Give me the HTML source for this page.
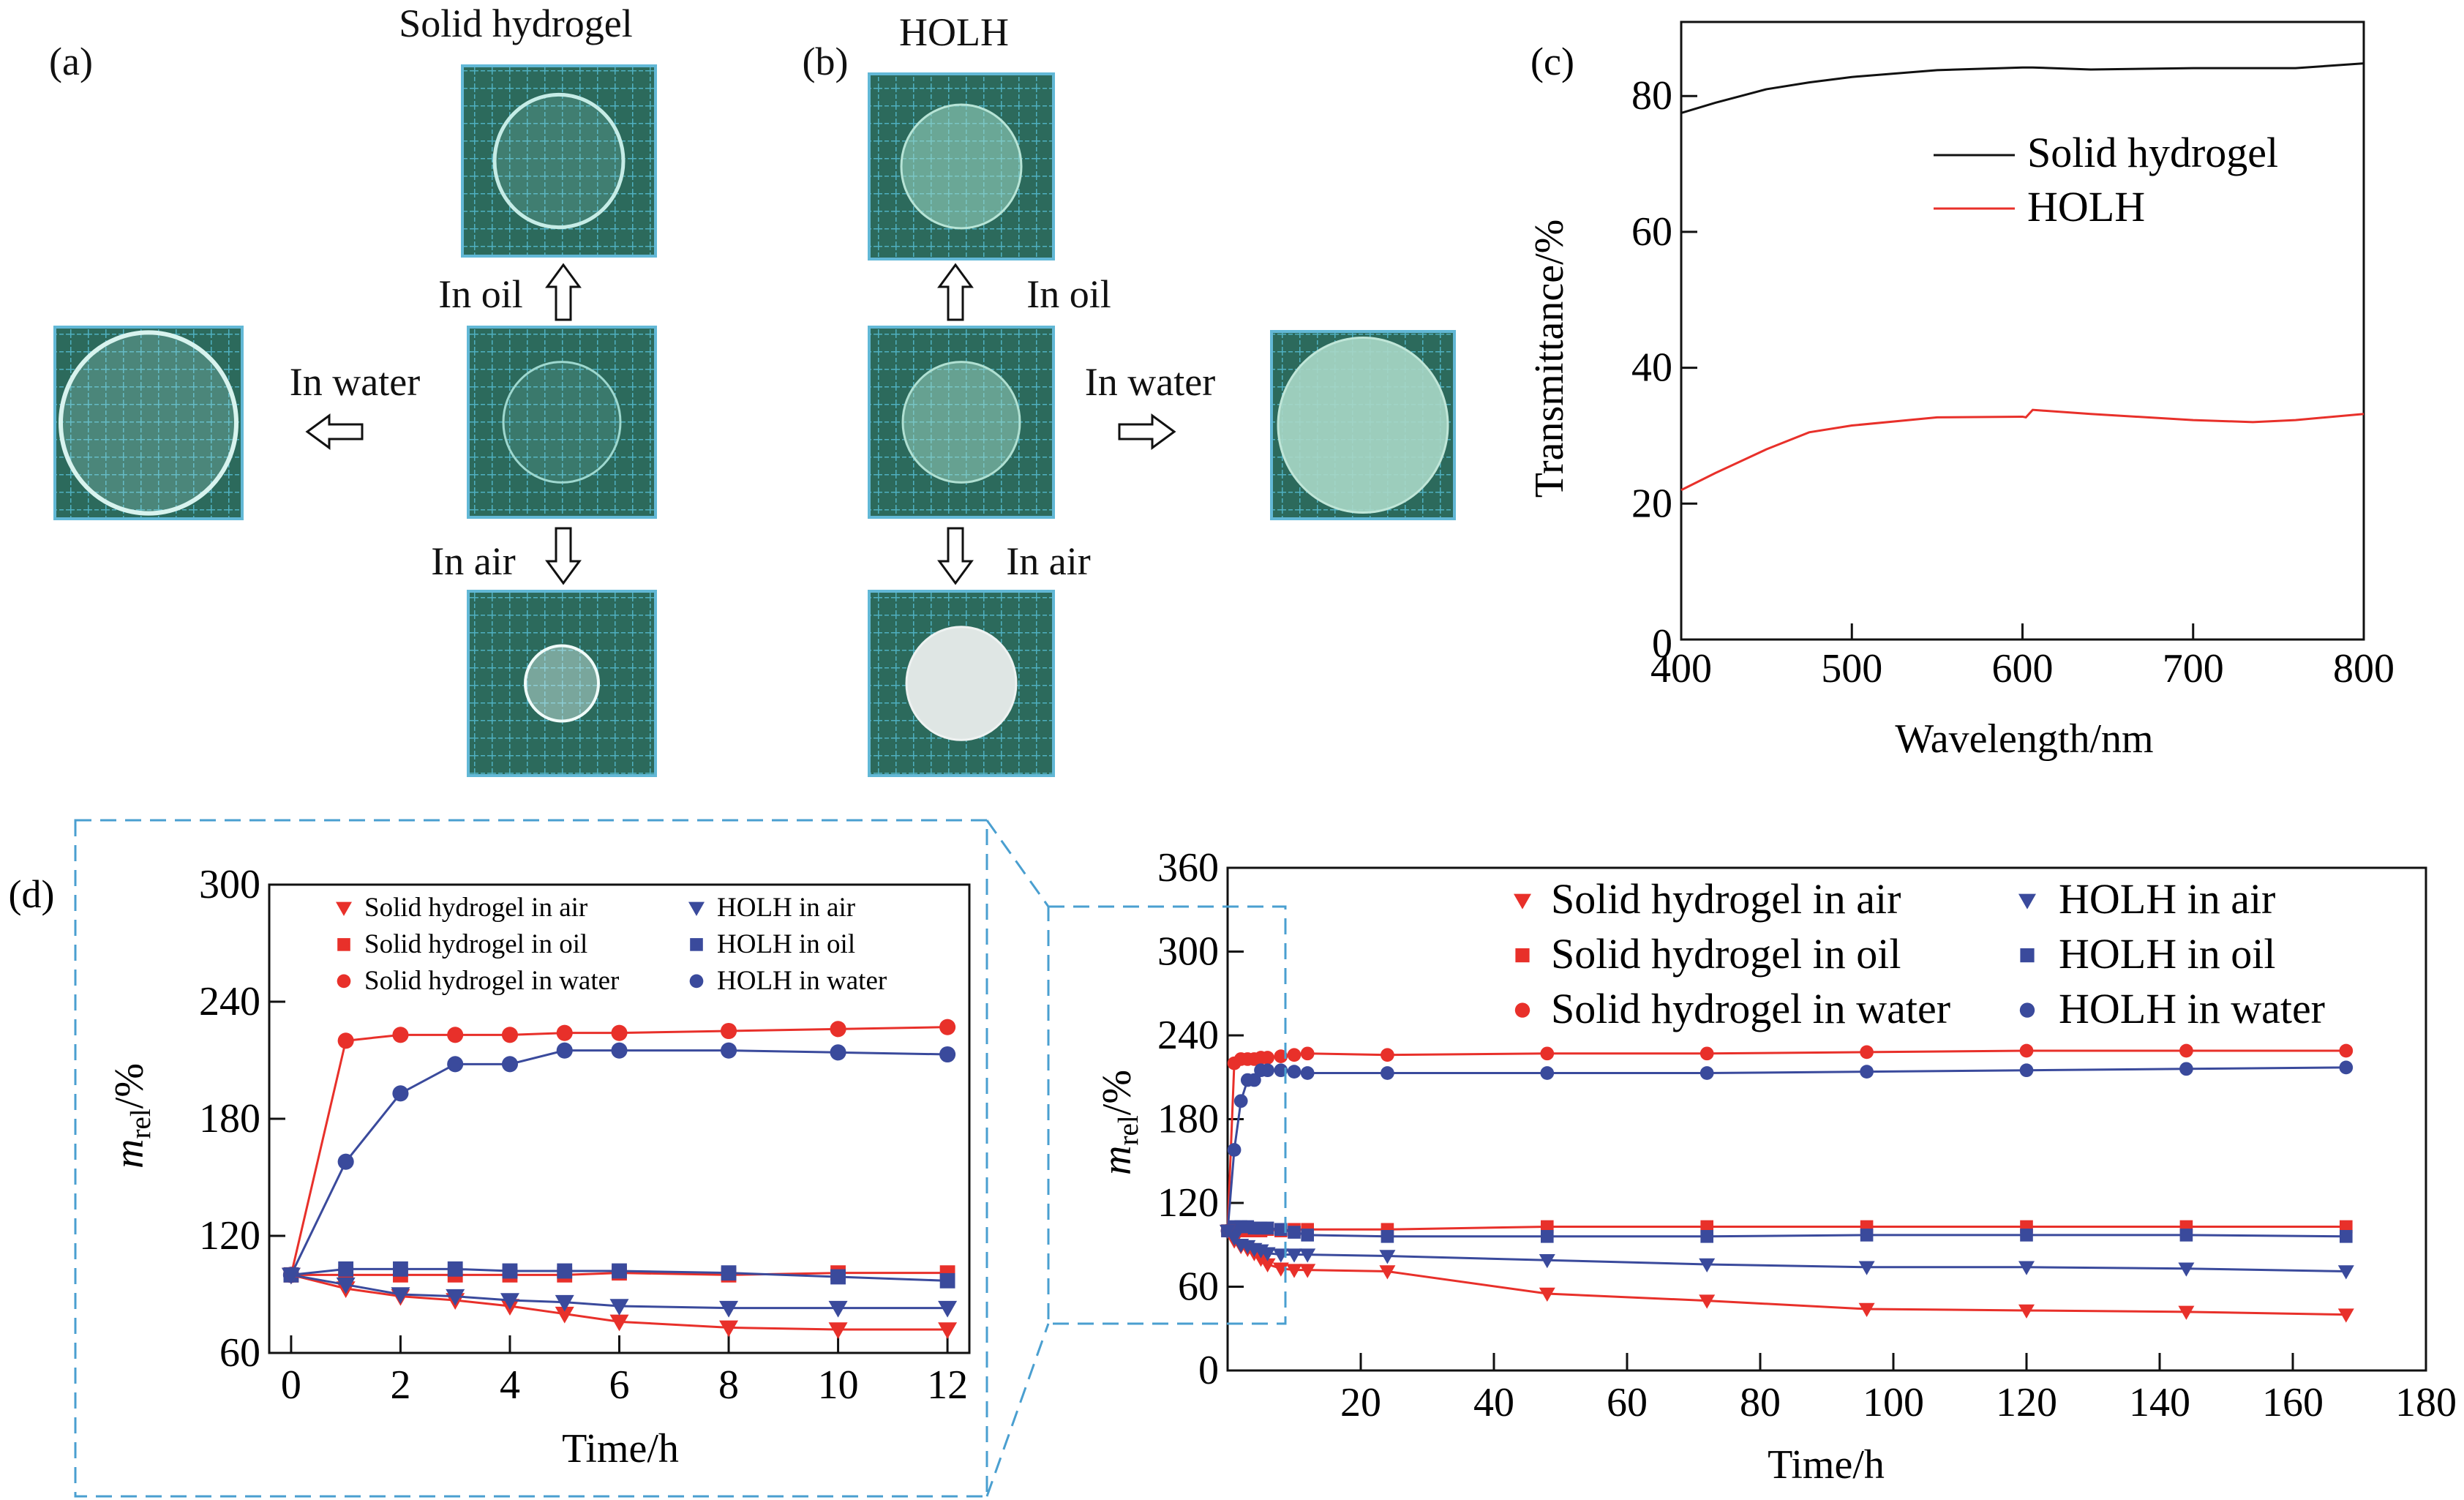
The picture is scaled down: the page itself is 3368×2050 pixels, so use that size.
<!DOCTYPE html>
<html><head><meta charset="utf-8"><style>
html,body{margin:0;padding:0;background:#fff;}
svg{display:block;}
svg text, svg tspan{font-family:"Liberation Serif","Times New Roman",serif;}
</style></head><body>
<svg id="fig" width="3368" height="2050" viewBox="0 0 3368 2050" xmlns="http://www.w3.org/2000/svg" font-family="Liberation Serif, serif">
<defs>
<pattern id="grid" width="24" height="24" patternUnits="userSpaceOnUse">
<rect width="24" height="24" fill="#2c6a5c"/>
<path d="M0 0H24M0 0V24" stroke="#4fb0c0" stroke-width="3" stroke-dasharray="6 3"/>
</pattern>
</defs>
<g id="photos"></g>
<g id="chartc"></g>
<g id="chartd1"></g>
<g id="chartd2"></g>
</svg>
<script>
// ---- panel c data ----
const cWave = [400,420,450,475,500,550,600,602,606,640,700,735,760,800];
const cSolid = [77.5,79,81,82,82.8,83.8,84.2,84.2,84.2,83.9,84.1,84.1,84.1,84.8];
const cHolh = [22,24.5,28,30.5,31.5,32.7,32.8,32.7,33.8,33.2,32.3,32,32.3,33.2];
const cXTicks = [400,500,600,700,800];
const cYTicks = [0,20,40,60,80];
// ---- panel d data ----
const tShort = [0,1,2,3,4,5,6,8,10,12];
const tLong = [0,1,2,3,4,5,6,8,10,12,24,48,72,96,120,144,168];
const solidWater = [100,220,223,223,223,224,224,225,226,227,226,227,227,228,229,229,229];
const holhWater = [100,158,193,208,208,215,215,215,214,213,213,213,213,214,215,216,217];
const solidOil = [100,100,100,100,100,100,101,100,101,101,101,103,103,103,103,103,103];
const holhOil = [100,103,103,103,102,102,102,101,99,97,96,96,96,97,97,97,96];
const solidAir = [100,93,89,87,84,80,76,73,72,72,71,55,50,44,43,42,40];
const holhAir = [100,95,90,89,87,86,84,83,83,83,82,79,76,74,74,73,71];
const d1XTicks = [0,2,4,6,8,10,12];
const d1YTicks = [60,120,180,240,300];
const d2XTicks = [20,40,60,80,100,120,140,160,180];
const d2YTicks = [0,60,120,180,240,300,360];

const NS='http://www.w3.org/2000/svg';
const FONT='"Liberation Serif", serif';
function mk(parent,tag,attrs,text){const e=document.createElementNS(NS,tag);for(const k in attrs)e.setAttribute(k,attrs[k]);if(tag==='text'||tag==='tspan')e.setAttribute('font-family',FONT);if(text!==undefined)e.textContent=text;parent.appendChild(e);return e;}
const RED='#e8302a', BLUE='#3a4a9c';

// ---- photos ----
(function(){
const P=document.getElementById('photos');
function photo(x,y,w,h,name,r,fill,op,stroke,sw){
  const g=document.createElementNS(NS,'g');P.appendChild(g);
  
  
  mk(g,'rect',{x:x,y:y,width:w,height:h,fill:'url(#grid)',stroke:'#62b8d6','stroke-width':4});
  mk(g,'ellipse',{cx:x+w/2,cy:y+h/2,rx:r,ry:r*1.03,fill:fill,'fill-opacity':op,stroke:stroke,'stroke-width':sw});
}
photo(632,90,264,260,'photo-a-oil',88,'#8fd3c8',0.2,'#c6ece6',5);
photo(640,447,256,260,'photo-a-origin',80,'#8fd3c8',0.15,'#9ed8cf',3);
photo(75,447,256,262,'photo-a-water',120,'#a6dcd5',0.25,'#d8f3ee',6);
photo(640,808,256,252,'photo-a-air',50,'#d6f0ec',0.45,'#f0fbf9',4);
photo(1188,101,252,253,'photo-b-oil',82,'#9fd8c6',0.55,'#b7e4d6',3);
photo(1188,447,252,260,'photo-b-origin',80,'#9fd8c6',0.5,'#b0e0d2',3);
photo(1738,453,250,256,'photo-b-water',116,'#a9d8c6',0.9,'#c0e6d8',3);
photo(1188,808,252,252,'photo-b-air',75,'#dfe6e4',1,'#eef2f1',3);
const T=(x,y,s,name,size,anchor)=>{const t=mk(P,'text',{x:x,y:y,'font-size':size||54,'text-anchor':anchor||'middle',fill:'#111'},s);return t;};
T(705,50,'Solid hydrogel','title-solid-hydrogel');
T(1304,62,'HOLH','title-holh');
T(97,102,'(a)','label-a');
T(1128,102,'(b)','label-b');
T(657,420,'In oil','label-a-in-oil');
T(485,540,'In water','label-a-in-water');
T(647,785,'In air','label-a-in-air');
T(1461,420,'In oil','label-b-in-oil');
T(1572,540,'In water','label-b-in-water');
T(1433,785,'In air','label-b-in-air');
function arrow(x,y,dir,name){
  let pts;
  const L=75,w=10,hw=22,hl=30;
  if(dir==='up') pts=[[x-w,y+L],[x-w,y+hl],[x-hw,y+hl],[x,y],[x+hw,y+hl],[x+w,y+hl],[x+w,y+L]];
  if(dir==='down') pts=[[x-w,y],[x-w,y+L-hl],[x-hw,y+L-hl],[x,y+L],[x+hw,y+L-hl],[x+w,y+L-hl],[x+w,y]];
  if(dir==='left') pts=[[x+L,y-w],[x+hl,y-w],[x+hl,y-hw],[x,y],[x+hl,y+hw],[x+hl,y+w],[x+L,y+w]];
  if(dir==='right') pts=[[x,y-w],[x+L-hl,y-w],[x+L-hl,y-hw],[x+L,y],[x+L-hl,y+hw],[x+L-hl,y+w],[x,y+w]];
  const p=mk(P,'polygon',{points:pts.map(q=>q.join(',')).join(' '),fill:'#fff',stroke:'#111','stroke-width':3});
  
}
arrow(770,362,'up','arrow-a-oil');
arrow(420,590,'left','arrow-a-water');
arrow(770,722,'down','arrow-a-air');
arrow(1306,362,'up','arrow-b-oil');
arrow(1530,590,'right','arrow-b-water');
arrow(1306,722,'down','arrow-b-air');
})();

// ---- panel c ----
(function(){
const G=document.getElementById('chartc');
const L=2298,R=3231,Tp=30,B=874;
const x=v=>L+(v-400)/400*(R-L), y=v=>B-v/20*185.7;
const box=mk(G,'rect',{x:L,y:Tp,width:R-L,height:B-Tp,fill:'none',stroke:'#111','stroke-width':3});

cXTicks.forEach(v=>{
  if(v>400&&v<800){const l=mk(G,'line',{x1:x(v),x2:x(v),y1:B,y2:B-22,stroke:'#111','stroke-width':3});}
  const t=mk(G,'text',{x:x(v),y:B+58,'font-size':56,'text-anchor':'middle'},String(v));
  
});
cYTicks.forEach(v=>{
  if(v>0){const l=mk(G,'line',{x1:L,x2:L+22,y1:y(v),y2:y(v),stroke:'#111','stroke-width':3});}
  const t=mk(G,'text',{x:L-12,y:y(v)+(v===0?24:18),'font-size':56,'text-anchor':'end'},String(v));
  
});
const s1=mk(G,'polyline',{points:cWave.map((w,i)=>x(w)+','+y(cSolid[i])).join(' '),fill:'none',stroke:'#111','stroke-width':3});

const s2=mk(G,'polyline',{points:cWave.map((w,i)=>x(w)+','+y(cHolh[i])).join(' '),fill:'none',stroke:RED,'stroke-width':3});

const lg=mk(G,'g',{});
mk(lg,'line',{x1:2643,x2:2754,y1:212,y2:212,stroke:'#111','stroke-width':3});
mk(lg,'text',{x:2771,y:228,'font-size':58},'Solid hydrogel');
mk(lg,'line',{x1:2643,x2:2754,y1:285,y2:285,stroke:RED,'stroke-width':3});
mk(lg,'text',{x:2771,y:302,'font-size':58},'HOLH');
const a=mk(G,'text',{x:2122,y:102,'font-size':54,'text-anchor':'middle'},'(c)');
const yt=mk(G,'text',{x:0,y:0,'font-size':56,'text-anchor':'middle',transform:'translate(2136,490) rotate(-90)'},'Transmittance/%');
const xt=mk(G,'text',{x:2767,y:1028,'font-size':56,'text-anchor':'middle'},'Wavelength/nm');
})();

// ---- panel d ----
function marker(g,kind,cx,cy,sz,color){
  let e;
  if(kind==='tri') e=mk(g,'polygon',{points:`${cx-sz},${cy-sz*0.75} ${cx+sz},${cy-sz*0.75} ${cx},${cy+sz}`,fill:color});
  else if(kind==='sq') e=mk(g,'rect',{x:cx-sz*0.8,y:cy-sz*0.8,width:sz*1.6,height:sz*1.6,fill:color});
  else e=mk(g,'circle',{cx:cx,cy:cy,r:sz*0.85,fill:color});
  return e;
}
const seriesDefs=[
  ['solid-water',solidWater,RED,'circ'],['holh-water',holhWater,BLUE,'circ'],
  ['solid-oil',solidOil,RED,'sq'],['holh-oil',holhOil,BLUE,'sq'],
  ['solid-air',solidAir,RED,'tri'],['holh-air',holhAir,BLUE,'tri']];
function drawD(G,opt){
  const {L,R,Tp,B,xmin,xmax,ymin,ymax,times,xt,yt,ms,fs,tag}=opt;
  const x=v=>L+(v-xmin)/(xmax-xmin)*(R-L), y=v=>B-(v-ymin)/(ymax-ymin)*(B-Tp);
  const f=mk(G,'rect',{x:L,y:Tp,width:R-L,height:B-Tp,fill:'none',stroke:'#111','stroke-width':3});
  
  xt.forEach(v=>{
    if(v>xmin&&v<xmax||opt.tickEnds){const l=mk(G,'line',{x1:x(v),x2:x(v),y1:B,y2:B-24,stroke:'#111','stroke-width':3});}
    const t=mk(G,'text',{x:x(v),y:B+opt.xlOff,'font-size':fs,'text-anchor':'middle'},String(v));
    
  });
  yt.forEach(v=>{
    if(v>ymin&&v<ymax){const l=mk(G,'line',{x1:L,x2:L+22,y1:y(v),y2:y(v),stroke:'#111','stroke-width':3});}
    const t=mk(G,'text',{x:L-12,y:y(v)+18,'font-size':fs,'text-anchor':'end'},String(v));
    
  });
  seriesDefs.forEach(([nm,vals,col,kind])=>{
    const g=mk(G,'g',{});
    
    
    mk(g,'polyline',{points:times.map((t,i)=>x(t)+','+y(vals[i])).join(' '),fill:'none',stroke:col,'stroke-width':3});
    times.forEach((t,i)=>{const m=marker(g,kind,x(t),y(vals[i]),ms,col);
      
      });
  });
  const lg=mk(G,'g',{});
  const labels=[['Solid hydrogel in air',RED,'tri'],['Solid hydrogel in oil',RED,'sq'],['Solid hydrogel in water',RED,'circ'],
                ['HOLH in air',BLUE,'tri'],['HOLH in oil',BLUE,'sq'],['HOLH in water',BLUE,'circ']];
  labels.forEach((lb,i)=>{
    const col=Math.floor(i/3), row=i%3;
    const mx=opt.leg.mx[col], tx=opt.leg.tx[col], yy=opt.leg.y0+row*opt.leg.dy;
    marker(lg,lb[2],mx,yy-opt.leg.fs*0.3,opt.leg.ms,lb[1]);
    mk(lg,'text',{x:tx,y:yy,'font-size':opt.leg.fs},lb[0]);
  });
  const xtl=mk(G,'text',{x:opt.xtitle[0],y:opt.xtitle[1],'font-size':fs,'text-anchor':'middle'},'Time/h');
  
  const ytl=mk(G,'text',{x:0,y:0,'font-size':fs,'text-anchor':'middle',transform:`translate(${opt.ytitle[0]},${opt.ytitle[1]}) rotate(-90)`});
  
  mk(ytl,'tspan',{'font-style':'italic'},'m');
  mk(ytl,'tspan',{'font-size':fs*0.7,dy:10},'rel');
  mk(ytl,'tspan',{dy:-10},'/%');
}
drawD(document.getElementById('chartd1'),{L:368,R:1325,Tp:1209,B:1849,xmin:-0.4,xmax:12.4,ymin:60,ymax:300,
  times:tShort,xt:d1XTicks,yt:d1YTicks,ms:13,fs:56,tag:'zoom',xlOff:62,tickEnds:true,
  leg:{mx:[470,952],tx:[498,980],y0:1252,dy:50,fs:37,ms:11},xtitle:[848,1998],ytitle:[195,1525]});
drawD(document.getElementById('chartd2'),{L:1678,R:3316,Tp:1186,B:1873,xmin:0,xmax:180,ymin:0,ymax:360,
  times:tLong,xt:d2XTicks,yt:d2YTicks,ms:11,fs:56,tag:'full',xlOff:62,tickEnds:false,
  leg:{mx:[2081,2771],tx:[2120,2814],y0:1248,dy:75,fs:58,ms:12},xtitle:[2496,2020],ytitle:[1545,1534]});
(function(){
const G=document.getElementById('chartd2');
const d={fill:'none',stroke:'#4a9fd0','stroke-width':3,'stroke-dasharray':'22 12'};
const r1=mk(G,'rect',Object.assign({x:103,y:1121,width:1246,height:924},d));
const r2=mk(G,'rect',Object.assign({x:1433,y:1239,width:324,height:570},d));
const c1=mk(G,'line',Object.assign({x1:1349,y1:1121,x2:1433,y2:1239},d));
const c2=mk(G,'line',Object.assign({x1:1349,y1:2045,x2:1433,y2:1809},d));
const t=mk(G,'text',{x:43,y:1240,'font-size':54,'text-anchor':'middle'},'(d)');
})();
</script>
</body></html>
